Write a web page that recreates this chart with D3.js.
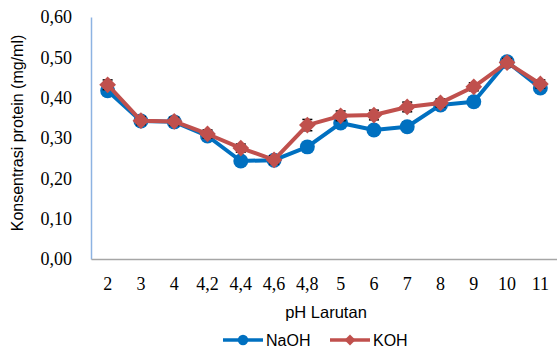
<!DOCTYPE html>
<html>
<head>
<meta charset="utf-8">
<script src="https://cdn.jsdelivr.net/npm/d3@7"></script>
<style>
  body { margin: 0; background: #fff; }
  svg { display: block; }
</style>
</head>
<body>
<div class="chart"></div>
<script>
// data
var categories = ["2", "3", "4", "4,2", "4,4", "4,6", "4,8", "5", "6", "7", "8", "9", "10", "11"];
var naoh = [0.417, 0.342, 0.340, 0.305, 0.243, 0.245, 0.278, 0.337, 0.320, 0.328, 0.382, 0.390, 0.489, 0.424];
var koh = [0.432, 0.343, 0.341, 0.310, 0.275, 0.246, 0.332, 0.355, 0.357, 0.377, 0.387, 0.427, 0.487, 0.434];
var naohErr = [0.012, 0.010, 0.010, 0.010, 0.010, 0.010, 0.010, 0.010, 0.010, 0.012, 0.010, 0.012, 0.010, 0.010];
var kohErr = [0.012, 0.010, 0.010, 0.010, 0.010, 0.010, 0.014, 0.012, 0.012, 0.012, 0.010, 0.010, 0.010, 0.010];
var yTicks = [0, 0.1, 0.2, 0.3, 0.4, 0.5, 0.6];

var serif = "'Liberation Serif', 'Times New Roman', serif";
var sans = "'Liberation Sans', Arial, sans-serif";

var svgWidth = 557, svgHeight = 349;
var margin = { top: 17, right: 0, bottom: 90, left: 91 };
var width = svgWidth - margin.left - margin.right;
var height = svgHeight - margin.top - margin.bottom;

var svg = d3.select(".chart").append("svg")
  .attr("width", svgWidth)
  .attr("height", svgHeight);

var chartGroup = svg.append("g")
  .attr("transform", `translate(${margin.left}, ${margin.top})`);

var xScale = d3.scaleBand().domain(categories).range([0, width]);
var yScale = d3.scaleLinear().domain([0, 0.6]).range([height, 0]);

// y axis
var yAxis = chartGroup.append("g")
  .call(d3.axisLeft(yScale).tickValues(yTicks).tickSize(0).tickPadding(19)
    .tickFormat(d => d3.format(".2f")(d).replace(".", ",")));
yAxis.select(".domain").attr("stroke", "#8db3e2").attr("stroke-width", 1.5);
yAxis.selectAll(".tick text")
  .style("font-family", serif).style("font-size", "18px").style("fill", "#000");

// x axis
var xAxis = chartGroup.append("g")
  .attr("transform", `translate(0, ${height})`)
  .call(d3.axisBottom(xScale).tickSize(0).tickPadding(18));
xAxis.select(".domain").attr("stroke", "#a6a6a6").attr("stroke-width", 1.5);
xAxis.selectAll(".tick text")
  .style("font-family", serif).style("font-size", "18px").style("fill", "#000");

// axis titles
svg.append("text")
  .attr("x", 326).attr("y", 318)
  .attr("text-anchor", "middle")
  .style("font-family", sans).style("font-size", "16.5px")
  .text("pH Larutan");

svg.append("text")
  .attr("transform", "translate(22.5, 133) rotate(-90)")
  .attr("text-anchor", "middle")
  .style("font-family", sans).style("font-size", "16px")
  .text("Konsentrasi protein (mg/ml)");

var series = [
  { name: "NaOH", values: naoh, err: naohErr, color: "#0070c0", shape: "circle" },
  { name: "KOH", values: koh, err: kohErr, color: "#c0504d", shape: "diamond" }
];

var cx = d => xScale(d) + xScale.bandwidth() / 2;

var line = d3.line()
  .x((d, i) => cx(categories[i]))
  .y(d => yScale(d));

function marker(shape, big) {
  return shape === "circle"
    ? d3.symbol().type(d3.symbolCircle).size(big ? 175 : 85)
    : d3.symbol().type(d3.symbolSquare).size(big ? 140 : 60);
}
function markerPos(shape, x, y) {
  return shape === "circle" ? `translate(${x}, ${y})` : `translate(${x}, ${y}) rotate(45)`;
}

series.forEach(function(s) {
  var g = chartGroup.append("g");

  // error bars
  var eb = g.selectAll(".err").data(s.values).enter().append("g");
  eb.append("line")
    .attr("x1", (d, i) => cx(categories[i])).attr("x2", (d, i) => cx(categories[i]))
    .attr("y1", (d, i) => yScale(d - s.err[i])).attr("y2", (d, i) => yScale(d + s.err[i]))
    .attr("stroke", "#000").attr("stroke-width", 1);
  [-1, 1].forEach(function(sign) {
    eb.append("line")
      .attr("x1", (d, i) => cx(categories[i]) - 5).attr("x2", (d, i) => cx(categories[i]) + 5)
      .attr("y1", (d, i) => yScale(d + sign * s.err[i])).attr("y2", (d, i) => yScale(d + sign * s.err[i]))
      .attr("stroke", "#000").attr("stroke-width", 1.5);
  });

  g.append("path")
    .datum(s.values)
    .attr("d", line)
    .attr("fill", "none")
    .attr("stroke", s.color)
    .attr("stroke-width", 4)
    .attr("stroke-linejoin", "round");

  g.selectAll(".pt").data(s.values).enter().append("path")
    .attr("d", marker(s.shape, true))
    .attr("transform", (d, i) => markerPos(s.shape, cx(categories[i]), yScale(d)))
    .attr("fill", s.color);
});

// legend
var legend = svg.append("g");
var legendItems = [
  { name: "NaOH", color: "#0070c0", shape: "circle", x: 223 },
  { name: "KOH", color: "#c0504d", shape: "diamond", x: 330 }
];
legendItems.forEach(function(d) {
  legend.append("line")
    .attr("x1", d.x).attr("x2", d.x + 40)
    .attr("y1", 340).attr("y2", 340)
    .attr("stroke", d.color).attr("stroke-width", 3.5);
  legend.append("path")
    .attr("d", marker(d.shape, false))
    .attr("transform", markerPos(d.shape, d.x + 20, 340))
    .attr("fill", d.color);
  legend.append("text")
    .attr("x", d.x + 43).attr("y", 346)
    .style("font-family", sans).style("font-size", "16px")
    .text(d.name);
});
</script>
</body>
</html>
